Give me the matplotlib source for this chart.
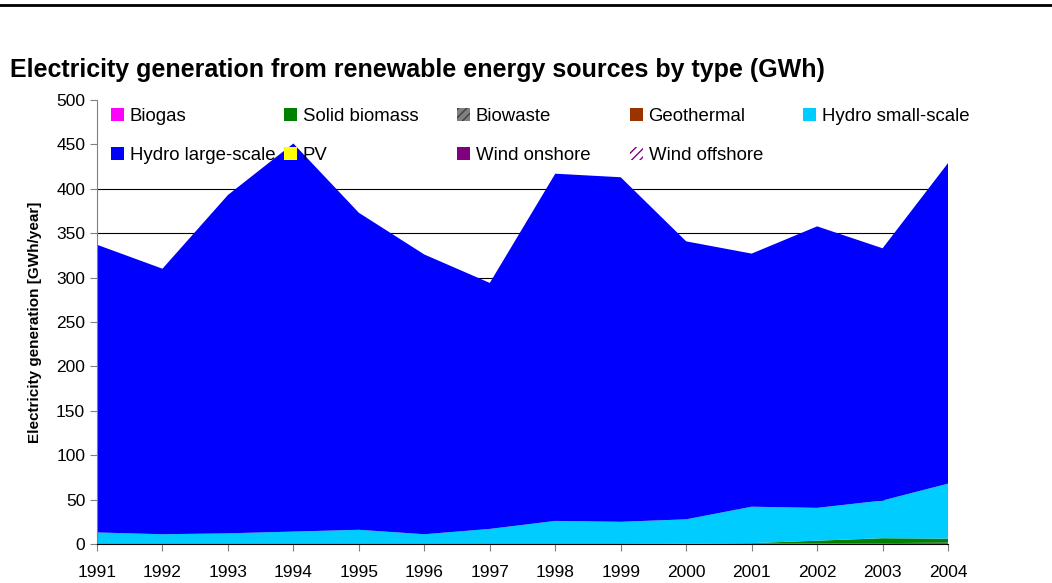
import numpy as np
import matplotlib.pyplot as plt
from matplotlib.lines import Line2D
from matplotlib.legend import Legend

plt.rcParams['font.family'] = ['Liberation Sans', 'DejaVu Sans']

years = list(range(1991, 2005))
biogas = [0, 0, 0, 0, 0, 0, 0, 0, 0, 0.3, 0.5, 0.7, 1.0, 1.5]
solid_biomass = [0, 0, 0, 0, 0, 0, 0, 0, 0, 0, 0.5, 3, 5.5, 4.5]
biowaste = [0] * 14
geothermal = [0] * 14
hydro_small = [13, 11, 12, 14, 16, 11, 17, 26, 25, 27.5, 41, 37, 42.5, 62]
hydro_large = [324, 299, 381, 437, 357, 315, 277, 391, 388, 313, 285, 317, 284, 361]
pv = [0] * 14
wind_on = [0] * 14
wind_off = [0] * 14

labels = ["Biogas", "Solid biomass", "Biowaste", "Geothermal", "Hydro small-scale",
          "Hydro large-scale", "PV", "Wind onshore", "Wind offshore"]
colors = ["#ff00ff", "#008000", "#808080", "#993300", "#00ccff",
          "#0000ff", "#ffff00", "#800080", "#ffffff"]

fig = plt.figure(figsize=(10.52, 5.83), dpi=100)
ax = fig.add_axes([0.0922, 0.0669, 0.8090, 0.7616])

series = [biogas, solid_biomass, biowaste, geothermal, hydro_small,
          hydro_large, pv, wind_on, wind_off]
polys = ax.stackplot(years, *series, colors=colors, labels=labels, zorder=2, linewidth=0)
polys[2].set_hatch('////')
polys[2].set_edgecolor('#404040')
polys[8].set_hatch('////')
polys[8].set_edgecolor('#800080')

ax.set_xlim(1991, 2004)
ax.set_ylim(0, 500)
ax.set_xticks(years)
ax.set_yticks(range(0, 501, 50))
ax.tick_params(axis='both', labelsize=12.5, direction='out', length=5, color='#808080')
ax.tick_params(axis='x', pad=10)
ax.yaxis.grid(True, color='black', linewidth=0.8, zorder=0)
ax.set_axisbelow(True)
# legend area in the original hides the upper gridlines
for tick, gl in zip(ax.get_yticks(), ax.yaxis.get_gridlines()):
    if tick > 400:
        gl.set_visible(False)

for s in ['top', 'right']:
    ax.spines[s].set_visible(False)
ax.spines['left'].set_color('#808080')
ax.spines['bottom'].set_color('black')

ax.set_ylabel("Electricity generation [GWh/year]", fontsize=11, fontweight='bold', labelpad=10)

# legend: 5 equally spaced columns, filled row by row
ncol = 5
col_step = 0.2033
for k in range(ncol):
    idx = [i for i in (k, k + ncol) if i < len(polys)]
    leg = Legend(ax, [polys[i] for i in idx], [labels[i] for i in idx],
                 loc='upper left', bbox_to_anchor=(0.012 + k * col_step, 0.99),
                 fontsize=13.4, frameon=False,
                 handlelength=0.7, handleheight=0.7, handletextpad=0.3,
                 borderaxespad=0.0, borderpad=0.2, labelspacing=1.15)
    leg.set_zorder(3)
    ax.add_artist(leg)

fig.text(0.0095, 0.880, "Electricity generation from renewable energy sources by type (GWh)",
         fontsize=18, fontweight='bold', va='center')
fig.add_artist(Line2D([0, 1], [0.991, 0.991], color='black', linewidth=2))

fig.savefig("out.png", dpi=100)
